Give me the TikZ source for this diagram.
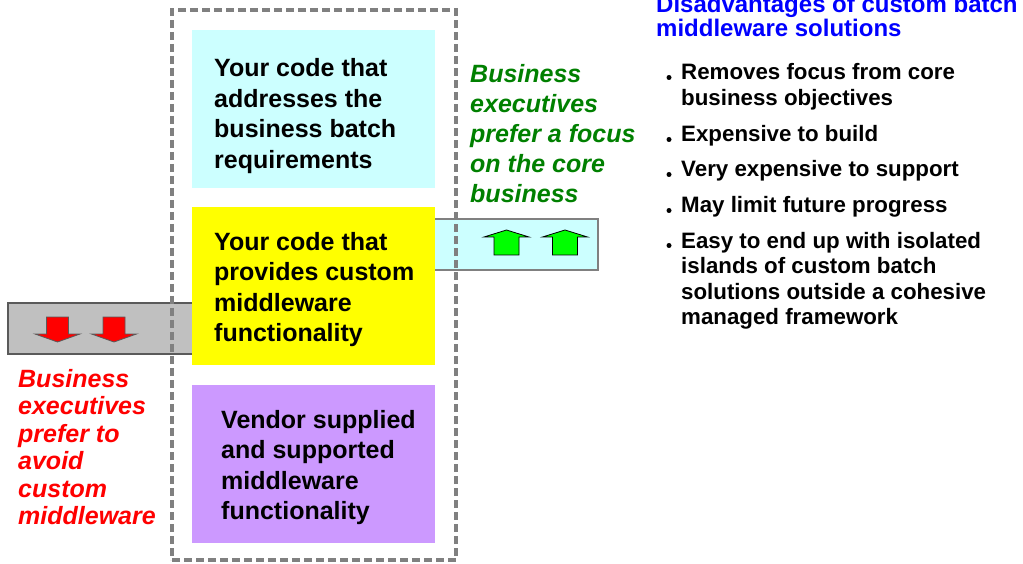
\documentclass[tikz,border=0pt]{standalone}
\usepackage{fontspec}
\setmainfont{Liberation Sans}
\usetikzlibrary{positioning}
\definecolor{BoxCyan}{HTML}{CCFFFF}
\definecolor{BoxYellow}{HTML}{FFFF00}
\definecolor{BoxLilac}{HTML}{CC99FF}
\definecolor{StripGray}{HTML}{C0C0C0}
\definecolor{FrameGray}{HTML}{808080}
\definecolor{EdgeGray}{HTML}{5A5A5A}
\definecolor{ExecGreen}{HTML}{008000}
\definecolor{ExecRed}{HTML}{FF0000}
\definecolor{TitleBlue}{HTML}{0000FF}
\definecolor{ArrGreen}{HTML}{00FF00}
\tikzset{
    layer/.style = {rectangle, minimum width=243, minimum height=158, inner sep=0},
    layertext/.style = {anchor=base west, align=left, inner sep=0,
        font=\fontsize{25}{30.5}\selectfont\bfseries},
    strip/.style = {rectangle, draw=EdgeGray, line width=1.2, inner sep=0, minimum height=51},
    exec/.style = {anchor=base west, align=left, inner sep=0,
        font=\fontsize{25}{30}\selectfont\bfseries\itshape},
    point/.style = {anchor=base west, align=left, inner sep=0,
        font=\fontsize{22.3}{25.5}\selectfont\bfseries},
    dot/.style = {circle, fill=black, inner sep=0, minimum size=5},
    downarr/.pic = {\draw[fill=ExecRed, draw=EdgeGray, line width=0.8]
        (-11,-12.5) -- (11,-12.5) -- (11,4.5) -- (22.5,4.5) -- (0,12.5)
        -- (-22.5,4.5) -- (-11,4.5) -- cycle;},
    uparr/.pic = {\draw[fill=ArrGreen, draw=black, line width=0.8]
        (-12.5,12.5) -- (12.5,12.5) -- (12.5,-5.5) -- (22.5,-5.5) -- (0,-12.5)
        -- (-22.5,-5.5) -- (-12.5,-5.5) -- cycle;}
}

\begin{document}
\begin{tikzpicture}[x=1pt,y=-1pt]
                    \useasboundingbox (0,0) rectangle (1023,564);
                    \node[strip, fill=StripGray, minimum width=192] (lstrip) at (104,328.5) {};
                    \node[strip, fill=BoxCyan, draw=FrameGray, minimum width=168] (rstrip) at (514,244.5) {};
                    \foreach \x in {57.5,114}{
                        \pic (dn\x) at (\x,329.5) {downarr};
                    }
                    \foreach \x in {506.5,565}{
                        \pic (up\x) at (\x,242.5) {uparr};
                    }
                    \node[rectangle, draw=FrameGray, line width=4, dash pattern=on 8 off 4,
                        minimum width=284, minimum height=550, inner sep=0] (frame) at (314,285) {};
                    \node[layer, fill=BoxCyan] (biz) at (313.5,109) {};
                    \node[layer, fill=BoxYellow] (mid) at (313.5,286) {};
                    \node[layer, fill=BoxLilac] (vendor) at (313.5,463.5) {};
                    \node[layertext] (biztext) at (214,168.5) {Your code that\\addresses the\\business batch\\requirements};
                    \node[layertext] (midtext) at (214,341.5) {Your code that\\provides custom\\middleware\\functionality};
                    \node[layertext] (vendortext) at (221,519.5) {Vendor supplied\\and supported\\middleware\\functionality};
                    \node[exec, text=ExecGreen] (focus) at (470,203) {Business\\executives\\prefer a focus\\on the core\\business};
                    \node[exec, text=ExecRed, font=\fontsize{25}{27.5}\selectfont\bfseries\itshape] (avoid) at (18,524.5)
                        {Business\\executives\\prefer to\\avoid\\custom\\middleware};
                    \node[anchor=base west, align=left, inner sep=0, text=TitleBlue,
                        font=\fontsize{24}{24}\selectfont\bfseries] (title) at (656,37)
                        {Disadvantages of custom batch\\middleware solutions};
                    \foreach \y/\f/\t [count=\i] in {105.5/80/{Removes focus from core\\business objectives},
                        142/142/{Expensive to build}, 177/177/{Very expensive to support},
                        213/213/{May limit future progress},
                        324.5/248/{Easy to end up with isolated\\islands of custom batch\\solutions outside a cohesive\\managed framework}}{
                        \node[point] (pt\i) at (681,\y) {\t};
                        \node[dot] (dot\i) at (669,\f-2.5) {};
                    }
\end{tikzpicture}
\end{document}
